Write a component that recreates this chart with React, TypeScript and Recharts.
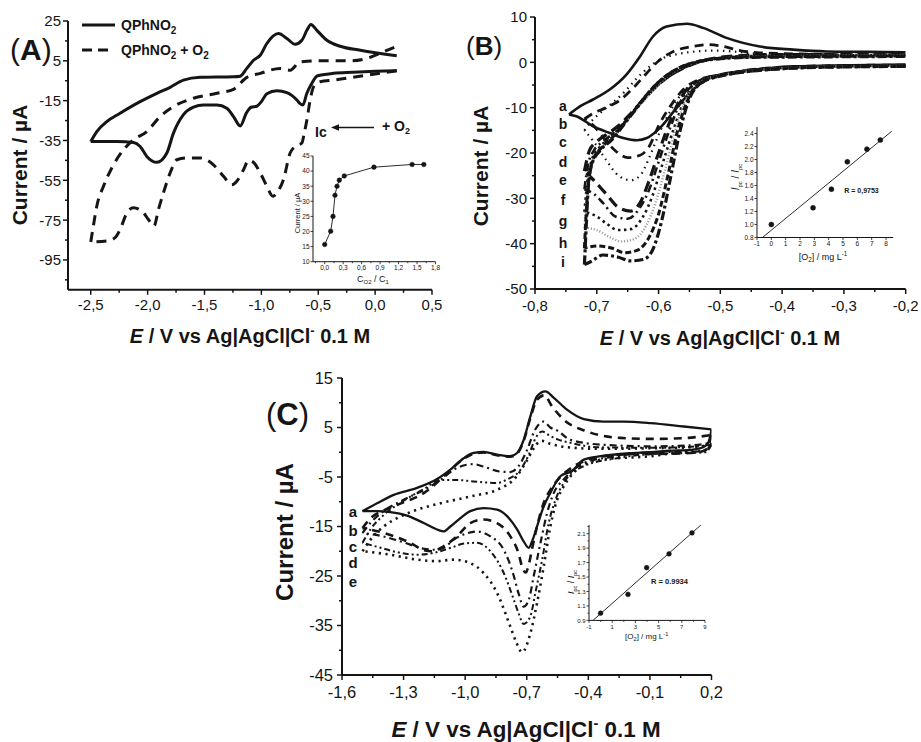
import React from 'react';
import { LineChart, Line, XAxis, YAxis } from 'recharts';

type Pt = [number, number];
type Row = { x: number; y: number };

const INK = '#151515';
const FONT = '"Liberation Sans", Arial, Helvetica, sans-serif';

// ---------- (A) QPhNO2 with / without O2, E in V, current in µA ----------
const A_X_TICKS = [-2.5, -2, -1.5, -1, -0.5, 0, 0.5];
const A_X_MINOR = [-2.25, -1.75, -1.25, -0.75, -0.25, 0.25];
const A_Y_TICKS = [25, 5, -15, -35, -55, -75, -95];
const A_Y_MINOR = [15, -5, -25, -45, -65, -85, -105];

const A_NO_O2: Pt[] = [
  [0.19, 0], [0, -0.3], [-0.2, -0.8], [-0.365, -1.3], [-0.46, -2.0], [-0.512, -2.7], [-0.556, -6.3],
  [-0.6, -11.3], [-0.635, -17.2], [-0.66, -16.5], [-0.688, -14.7], [-0.73, -12.5], [-0.776, -11],
  [-0.864, -10], [-0.952, -11.5], [-1.0, -15.5], [-1.04, -17.8], [-1.09, -18.3], [-1.13, -21],
  [-1.186, -27.7], [-1.245, -23], [-1.304, -18.8], [-1.391, -17.2], [-1.509, -17.2], [-1.597, -18.3],
  [-1.685, -22], [-1.773, -31.3], [-1.831, -41.3], [-1.919, -46], [-2.007, -43], [-2.066, -38],
  [-2.125, -36], [-2.271, -35.5], [-2.418, -35.5], [-2.5, -35.5],
  [-2.447, -30.5], [-2.359, -25.5], [-2.242, -21.3], [-2.066, -15.5], [-1.919, -11.3], [-1.802, -8.3],
  [-1.685, -4.7], [-1.538, -3.3], [-1.245, -3.0], [-1.186, -2.7], [-1.128, 1.2], [-1.069, 5.3],
  [-1.01, 7.8], [-0.952, 13.7], [-0.85, 18.7], [-0.776, 16.2], [-0.703, 13.3], [-0.644, 15.3],
  [-0.6, 20.3], [-0.565, 23.3], [-0.512, 20.3], [-0.424, 15.3], [-0.307, 12.3], [-0.13, 10.3], [0.19, 7.5],
];

const A_WITH_O2: Pt[] = [
  [0.19, 0], [-0.073, -2.2], [-0.365, -4.7], [-0.483, -5.5], [-0.541, -8], [-0.571, -14.7], [-0.6, -24.7],
  [-0.623, -31.3], [-0.644, -36.3], [-0.703, -38], [-0.747, -41.3], [-0.806, -54.7], [-0.864, -61.3],
  [-0.899, -63], [-0.952, -58], [-1.01, -51.3], [-1.069, -46], [-1.113, -45], [-1.157, -49.7],
  [-1.216, -55.5], [-1.26, -57.3], [-1.333, -53], [-1.421, -47.2], [-1.538, -43.8], [-1.655, -43.8],
  [-1.743, -44.7], [-1.802, -51.3], [-1.861, -61.3], [-1.905, -69.7], [-1.944, -78], [-1.993, -74.7],
  [-2.037, -71.3], [-2.125, -68.8], [-2.183, -71.5], [-2.242, -79.7], [-2.286, -83.8], [-2.359, -85.5], [-2.5, -86],
  [-2.482, -79.7], [-2.447, -68], [-2.388, -58], [-2.315, -48.8], [-2.212, -39.7], [-2.125, -34.7],
  [-2.007, -30.5], [-1.89, -23], [-1.773, -18], [-1.597, -13.8], [-1.391, -11.3], [-1.245, -9.3],
  [-1.128, -3.3], [-1.01, -1.3], [-0.835, 1.2], [-0.747, 0.3], [-0.659, 4.5], [-0.512, 5.0],
  [-0.219, 5.0], [-0.073, 6.2], [0.073, 9.5], [0.19, 12.3],
];

// inset of (A): current vs C_O2 / C_1
const A_IN_RATIO = [0, 0.097, 0.135, 0.167, 0.2, 0.237, 0.318, 0.8, 1.42, 1.61];
const A_IN_CURRENT = [15.7, 20.1, 25, 32, 35, 37, 38.4, 41.3, 42.2, 42.2];
const A_IN_X_TICKS = [0, 0.3, 0.6, 0.9, 1.2, 1.5, 1.8];
const A_IN_X_MINOR = [-0.15, 0.15, 0.45, 0.75, 1.05, 1.35, 1.65];
const A_IN_Y_TICKS = [10, 15, 20, 25, 30, 35, 40, 45];

// ---------- (B) curves a..i ----------
const B_X_TICKS = [-0.8, -0.7, -0.6, -0.5, -0.4, -0.3, -0.2];
const B_X_MINOR = [-0.75, -0.65, -0.55, -0.45, -0.35, -0.25];
const B_Y_TICKS = [10, 0, -10, -20, -30, -40, -50];
const B_Y_MINOR = [5, -5, -15, -25, -35, -45];
const B_LABELS = ['a', 'b', 'c', 'd', 'e', 'f', 'g', 'h', 'i'];

const B_a: Pt[] = [
  [-0.2, -0.5], [-0.3, -0.7], [-0.382, -0.9], [-0.463, -2.0], [-0.5, -2.7], [-0.522, -3.8], [-0.544, -6.0],
  [-0.571, -10.1], [-0.598, -14.5], [-0.619, -16.7], [-0.635, -17.2], [-0.657, -16.7], [-0.679, -15.6],
  [-0.706, -14.1], [-0.733, -11.9], [-0.745, -11.5],
  [-0.726, -9.6], [-0.706, -8.2], [-0.679, -6.0], [-0.652, -2.7], [-0.63, 1.3], [-0.609, 5.7], [-0.587, 7.9],
  [-0.554, 8.5], [-0.528, 7.6], [-0.49, 5.4], [-0.436, 3.5], [-0.382, 2.8], [-0.328, 2.4], [-0.26, 2.3], [-0.2, 2.2],
];
const B_b: Pt[] = [
  [-0.2, -0.6], [-0.3, -0.7], [-0.4, -1.1], [-0.46, -1.8], [-0.5, -2.8], [-0.53, -3.6], [-0.56, -6],
  [-0.58, -9.5], [-0.6, -14], [-0.615, -18.5], [-0.63, -20.5], [-0.65, -21], [-0.67, -19.5], [-0.69, -16.5],
  [-0.705, -14], [-0.72, -12.5],
  [-0.705, -11.2], [-0.685, -10], [-0.662, -8.3], [-0.64, -5.5], [-0.62, -2.5], [-0.6, 0.3], [-0.576, 2.4],
  [-0.544, 3.5], [-0.52, 3.9], [-0.495, 3.5], [-0.468, 2.6], [-0.436, 2.1], [-0.35, 1.8], [-0.2, 1.6],
];
const B_c: Pt[] = [
  [-0.2, -0.6], [-0.3, -0.7], [-0.4, -1.1], [-0.46, -1.8], [-0.5, -2.8], [-0.53, -3.8], [-0.56, -6.5],
  [-0.58, -10.5], [-0.6, -16], [-0.615, -21], [-0.63, -25], [-0.645, -26], [-0.665, -25], [-0.685, -21.5],
  [-0.705, -17.5], [-0.72, -15],
  [-0.71, -13.2], [-0.695, -11.2], [-0.675, -9], [-0.655, -6.5], [-0.635, -3.5], [-0.615, -1], [-0.595, 0.8],
  [-0.57, 1.8], [-0.54, 2.4], [-0.51, 2.6], [-0.48, 2.4], [-0.45, 2.0], [-0.4, 1.7], [-0.3, 1.6], [-0.2, 1.5],
];
const B_d: Pt[] = [
  [-0.2, -0.7], [-0.3, -0.8], [-0.4, -1.2], [-0.46, -1.9], [-0.5, -2.8], [-0.53, -3.8], [-0.56, -7],
  [-0.58, -12.5], [-0.6, -20], [-0.615, -26], [-0.63, -31], [-0.645, -32.8], [-0.665, -32], [-0.685, -29],
  [-0.705, -26], [-0.72, -24],
  [-0.712, -19.5], [-0.7, -17.5], [-0.685, -16], [-0.665, -14], [-0.645, -11.3], [-0.625, -8.3], [-0.605, -5.5],
  [-0.585, -3.2], [-0.56, -1.3], [-0.535, 0.1], [-0.505, 1.0], [-0.465, 1.5], [-0.42, 1.7], [-0.35, 1.7], [-0.2, 1.7],
];
const B_e: Pt[] = [
  [-0.2, -0.7], [-0.3, -0.8], [-0.4, -1.2], [-0.46, -1.9], [-0.5, -2.9], [-0.53, -4], [-0.56, -7.5],
  [-0.58, -14], [-0.6, -22], [-0.615, -28], [-0.63, -32], [-0.65, -34.5], [-0.67, -34], [-0.69, -31],
  [-0.705, -29], [-0.72, -28],
  [-0.714, -22.5], [-0.705, -19.5], [-0.69, -17.5], [-0.672, -15.5], [-0.652, -12.8], [-0.632, -9.6],
  [-0.612, -6.5], [-0.592, -4], [-0.57, -2], [-0.545, -0.4], [-0.515, 0.7], [-0.475, 1.3], [-0.43, 1.6],
  [-0.35, 1.6], [-0.2, 1.7],
];
const B_f: Pt[] = [
  [-0.2, -0.8], [-0.3, -0.9], [-0.4, -1.3], [-0.46, -2.0], [-0.5, -2.9], [-0.53, -4], [-0.555, -7.5],
  [-0.575, -14.5], [-0.595, -23], [-0.61, -29.5], [-0.625, -34], [-0.645, -36.8], [-0.665, -37],
  [-0.685, -35.5], [-0.7, -34], [-0.72, -33],
  [-0.715, -26], [-0.708, -21.5], [-0.697, -19], [-0.68, -16.8], [-0.66, -14], [-0.64, -10.8], [-0.62, -7.5],
  [-0.6, -4.8], [-0.58, -2.6], [-0.555, -0.8], [-0.525, 0.4], [-0.485, 1.1], [-0.44, 1.4], [-0.35, 1.5], [-0.2, 1.6],
];
const B_g: Pt[] = [
  [-0.2, -0.8], [-0.3, -0.9], [-0.4, -1.3], [-0.46, -2.0], [-0.5, -2.9], [-0.53, -4.2], [-0.555, -8],
  [-0.575, -16], [-0.59, -24], [-0.605, -31], [-0.62, -36], [-0.64, -39], [-0.66, -39.5], [-0.68, -38.5],
  [-0.7, -37], [-0.72, -36.5],
  [-0.716, -29], [-0.71, -23.5], [-0.7, -20], [-0.685, -17.8], [-0.665, -15.2], [-0.645, -12], [-0.625, -8.6],
  [-0.605, -5.5], [-0.585, -3], [-0.56, -1], [-0.53, 0.3], [-0.49, 1.0], [-0.44, 1.3], [-0.35, 1.4], [-0.2, 1.5],
];
const B_h: Pt[] = [
  [-0.2, -0.9], [-0.3, -1.0], [-0.4, -1.4], [-0.46, -2.1], [-0.5, -3], [-0.53, -4.3], [-0.55, -7.5],
  [-0.57, -15.5], [-0.585, -25], [-0.6, -33.5], [-0.615, -38.5], [-0.635, -41.5], [-0.655, -42],
  [-0.675, -41], [-0.7, -40.5], [-0.72, -41],
  [-0.717, -33], [-0.713, -26], [-0.706, -21.5], [-0.692, -18.8], [-0.672, -16.2], [-0.652, -12.8],
  [-0.632, -9.3], [-0.612, -6], [-0.592, -3.4], [-0.567, -1.2], [-0.537, 0.2], [-0.5, 0.9], [-0.45, 1.2],
  [-0.35, 1.3], [-0.2, 1.4],
];
const B_i: Pt[] = [
  [-0.2, -0.9], [-0.3, -1.0], [-0.4, -1.4], [-0.46, -2.1], [-0.5, -3], [-0.53, -4.5], [-0.55, -8],
  [-0.565, -15], [-0.58, -25], [-0.595, -35], [-0.61, -41.5], [-0.625, -43.5], [-0.645, -43.8],
  [-0.665, -43], [-0.69, -42.5], [-0.71, -44], [-0.72, -44.6],
  [-0.717, -36], [-0.714, -28], [-0.708, -22.5], [-0.695, -19.5], [-0.675, -17], [-0.655, -13.5],
  [-0.635, -10], [-0.615, -6.5], [-0.595, -3.8], [-0.57, -1.5], [-0.54, 0], [-0.5, 0.8], [-0.45, 1.1],
  [-0.35, 1.2], [-0.2, 1.3],
];

// inset of (B)
const B_IN_O2 = [0, 2.91, 4.19, 5.3, 6.67, 7.6];
const B_IN_RATIO = [1.0, 1.256, 1.544, 1.964, 2.159, 2.3];
const B_IN_FIT: Pt[] = [[-0.62, 0.8], [8.4, 2.435]];
const B_IN_X_TICKS = [-1, 0, 1, 2, 3, 4, 5, 6, 7, 8];
const B_IN_Y_TICKS = [0.8, 1.0, 1.2, 1.4, 1.6, 1.8, 2.0, 2.2, 2.4];

// ---------- (C) curves a..e ----------
const C_X_TICKS = [-1.6, -1.3, -1.0, -0.7, -0.4, -0.1, 0.2];
const C_X_MINOR = [-1.45, -1.15, -0.85, -0.55, -0.25, 0.05];
const C_Y_TICKS = [15, 5, -5, -15, -25, -35, -45];
const C_Y_MINOR = [10, 0, -10, -20, -30, -40];
const C_LABELS = ['a', 'b', 'c', 'd', 'e'];

const C_a: Pt[] = [
  [0.2, 4.6], [0.185, 2.0], [0.16, 1.0], [0.1, 0.5], [0, 0.3], [-0.1, 0.0], [-0.2, -0.2], [-0.34, -0.8],
  [-0.422, -1.5], [-0.48, -3.8], [-0.535, -4.8], [-0.585, -8.2], [-0.617, -10.9], [-0.65, -15], [-0.674, -18],
  [-0.69, -19.3], [-0.715, -18], [-0.747, -15.6], [-0.796, -12.9], [-0.845, -11.6], [-0.91, -11.3],
  [-0.975, -11.9], [-1.023, -13.3], [-1.072, -15], [-1.105, -16], [-1.137, -15.6], [-1.202, -14.3],
  [-1.283, -12.8], [-1.364, -12.1], [-1.429, -11.9], [-1.5, -11.9],
  [-1.429, -10.3], [-1.348, -8.6], [-1.234, -7.2], [-1.137, -5.4], [-1.072, -3.5], [-1.007, -1.2],
  [-0.958, -0.15], [-0.91, 0.05], [-0.845, -0.5], [-0.78, -0.8], [-0.747, -0.15], [-0.715, 2.5],
  [-0.682, 7.3], [-0.65, 11.3], [-0.609, 12.3], [-0.568, 11], [-0.504, 8.6], [-0.422, 6.7], [-0.325, 6.2],
  [-0.227, 6.2], [-0.097, 5.9], [0.065, 5.2], [0.2, 4.6],
];
const C_b: Pt[] = [
  [0.2, 3.5], [0.175, 0.6], [0.12, -0.1], [0, -0.3], [-0.2, -0.4], [-0.34, -0.9], [-0.422, -1.8],
  [-0.504, -3.8], [-0.55, -5.6], [-0.585, -7.6], [-0.617, -10.2], [-0.65, -15], [-0.674, -19.5],
  [-0.692, -23], [-0.705, -24.3], [-0.72, -23.5], [-0.74, -20.4], [-0.78, -17], [-0.845, -14.3],
  [-0.91, -13.6], [-0.975, -14.3], [-1.04, -17], [-1.105, -19], [-1.161, -20], [-1.2, -19.8],
  [-1.267, -18.3], [-1.397, -16.3], [-1.5, -15.3],
  [-1.46, -13.3], [-1.4, -11.8], [-1.33, -10.6], [-1.2, -8.2], [-1.12, -5.5], [-1.072, -3.6], [-1.007, -1.3],
  [-0.958, -0.3], [-0.91, -0.05], [-0.845, -0.6], [-0.78, -0.9], [-0.747, -0.3], [-0.715, 2.3], [-0.682, 7],
  [-0.65, 10.6], [-0.615, 11.5], [-0.577, 9.3], [-0.52, 6.6], [-0.406, 4.2], [-0.244, 2.9], [-0.081, 2.7],
  [0.081, 2.9], [0.2, 3.5],
];
const C_c: Pt[] = [
  [0.2, 1.9], [0.17, 0.3], [0.1, 0.1], [-0.1, 0.0], [-0.26, -0.8], [-0.422, -2.2], [-0.52, -5.5],
  [-0.568, -8.2], [-0.601, -12.3], [-0.633, -18.3], [-0.666, -25], [-0.69, -29.8], [-0.715, -31.2],
  [-0.74, -28.5], [-0.763, -25], [-0.812, -19.7], [-0.877, -17], [-0.942, -16], [-1.0, -16.5],
  [-1.05, -17.5], [-1.105, -19.3], [-1.15, -19.7], [-1.2, -19.5], [-1.3, -18.2], [-1.4, -17], [-1.5, -16.3],
  [-1.46, -14.2], [-1.4, -12], [-1.3, -9.6], [-1.2, -7.6], [-1.12, -5.6], [-1.05, -3.4], [-0.99, -2.5],
  [-0.96, -2.4], [-0.91, -2.9], [-0.83, -3.9], [-0.78, -4.0], [-0.74, -2.8], [-0.7, 0.3], [-0.66, 4.5],
  [-0.618, 6.2], [-0.585, 5.0], [-0.552, 4.4], [-0.487, 2.5], [-0.325, 1.5], [-0.081, 1.2], [0.1, 1.4], [0.2, 1.9],
];
const C_d: Pt[] = [
  [0.2, 1.5], [0.17, 0.0], [0.05, -0.2], [-0.1, -0.4], [-0.26, -1.2], [-0.422, -2.8], [-0.52, -6.2],
  [-0.56, -9.6], [-0.593, -14.3], [-0.625, -21.7], [-0.658, -28.4], [-0.682, -33.1], [-0.715, -34.7],
  [-0.74, -32.5], [-0.763, -29.8], [-0.812, -24.4], [-0.877, -20], [-0.942, -18.3], [-1.0, -18.4],
  [-1.07, -19.3], [-1.15, -20.3], [-1.234, -20.7], [-1.33, -20.2], [-1.42, -19.2], [-1.5, -18.3],
  [-1.46, -15.5], [-1.4, -12.8], [-1.3, -9.8], [-1.2, -7.4], [-1.12, -5.6], [-1.04, -5.6], [-0.96, -5.9],
  [-0.843, -6.2], [-0.796, -5.5], [-0.73, -3.5], [-0.69, -0.5], [-0.655, 3.0], [-0.625, 4.2], [-0.59, 3.4],
  [-0.55, 2.6], [-0.487, 1.9], [-0.35, 1.0], [-0.1, 0.9], [0.1, 1.1], [0.2, 1.5],
];
const C_e: Pt[] = [
  [0.2, 1.5], [0.17, 0.4], [0.05, 0.0], [-0.097, -0.8], [-0.341, -1.5], [-0.455, -3.5], [-0.52, -6.9],
  [-0.552, -9.6], [-0.585, -15], [-0.617, -23], [-0.65, -30.5], [-0.682, -36.5], [-0.722, -40.4],
  [-0.75, -38.5], [-0.78, -35.2], [-0.845, -28.4], [-0.91, -24.4], [-0.975, -22.4], [-1.056, -21.7],
  [-1.137, -22], [-1.234, -21.7], [-1.364, -20.7], [-1.5, -20],
  [-1.462, -17.7], [-1.397, -15], [-1.316, -13], [-1.234, -11.6], [-1.12, -10.3], [-0.96, -8.8],
  [-0.845, -7.6], [-0.75, -4.9], [-0.69, -1.0], [-0.655, 1.5], [-0.625, 2.3], [-0.585, 1.7], [-0.5, 1.0],
  [-0.35, 0.7], [-0.1, 0.8], [0.1, 1.0], [0.2, 1.5],
];

// inset of (C)
const C_IN_O2 = [0, 2.36, 3.97, 5.9, 7.88];
const C_IN_RATIO = [1.0, 1.26, 1.63, 1.82, 2.11];
const C_IN_FIT: Pt[] = [[-0.66, 0.9], [8.65, 2.22]];
const C_IN_X_TICKS = [-1, 1, 3, 5, 7, 9];
const C_IN_X_MINOR = [0, 2, 4, 6, 8];
const C_IN_Y_TICKS = [0.9, 1.1, 1.3, 1.5, 1.7, 1.9, 2.1];
const C_IN_Y_MINOR = [1.0, 1.2, 1.4, 1.6, 1.8, 2.0, 2.2];

// ---------- helpers ----------
const rows = (pts: Pt[]): Row[] => pts.map(([x, y]) => ({ x, y }));
const pairs = (xs: number[], ys: number[]): Row[] => xs.map((x, i) => ({ x, y: ys[i] }));

// each voltammogram is drawn as its two sweeps, split at the switching potential
function sweeps(pts: Pt[]): Row[][] {
  let k = 0;
  pts.forEach((p, i) => {
    if (p[0] < pts[k][0]) k = i;
  });
  return [rows(pts.slice(0, k + 1)), rows(pts.slice(k))];
}

const comma = (v: number) => v.toFixed(1).replace('.', ',');
const dot1 = (v: number) => v.toFixed(1);
const plain = (v: number) => String(v);
const has = (list: number[], v: number) => list.some((m) => Math.abs(m - v) < 1e-6);

type TickStyle = { majors: number[]; fmt: (v: number) => string; len: number; minor: number; gap: number; size: number; w: number };

const bottomTick = (s: TickStyle) => (p: any) => {
  const v = Number(p.payload.value);
  const major = has(s.majors, v);
  return (
    <g>
      <line x1={p.x} y1={p.y} x2={p.x} y2={p.y + (major ? s.len : s.minor)} stroke={INK} strokeWidth={s.w} />
      {major && (
        <text x={p.x} y={p.y + s.gap} textAnchor="middle" fontSize={s.size} fontFamily={FONT} fill={INK}>
          {s.fmt(v)}
        </text>
      )}
    </g>
  );
};

const leftTick = (s: TickStyle) => (p: any) => {
  const v = Number(p.payload.value);
  const major = has(s.majors, v);
  return (
    <g>
      <line x1={p.x} y1={p.y} x2={p.x - (major ? s.len : s.minor)} y2={p.y} stroke={INK} strokeWidth={s.w} />
      {major && (
        <text x={p.x - s.gap} y={p.y} dy="0.36em" textAnchor="end" fontSize={s.size} fontFamily={FONT} fill={INK}>
          {s.fmt(v)}
        </text>
      )}
    </g>
  );
};

function Frame(props: { x0: number; y0: number; x1: number; y1: number; yw: number; xh: number; mt: number; mr: number; children: React.ReactNode }) {
  const { x0, y0, x1, y1, yw, xh, mt, mr } = props;
  const left = x0 - yw;
  const top = y0 - mt;
  return (
    <div style={{ position: 'absolute', left, top }}>
      <LineChart width={x1 - left + mr} height={y1 - top + xh} margin={{ top: mt, right: mr, bottom: 0, left: 0 }}>
        {props.children}
      </LineChart>
    </div>
  );
}

type Stroke = { w: number; dash?: string; color?: string };

function cv(key: string, pts: Pt[], s: Stroke) {
  return sweeps(pts).map((data, i) => (
    <Line
      key={key + i}
      data={data}
      dataKey="y"
      type="monotone"
      stroke={s.color ?? INK}
      strokeWidth={s.w}
      strokeDasharray={s.dash}
      dot={false}
      activeDot={false}
      isAnimationActive={false}
    />
  ));
}

const mainAxis = { stroke: INK, strokeWidth: 2 };
const insetAxis = { stroke: INK, strokeWidth: 1 };

const B_SERIES: { pts: Pt[]; s: Stroke }[] = [
  { pts: B_a, s: { w: 2.6 } },
  { pts: B_b, s: { w: 2.8, dash: '9 6' } },
  { pts: B_c, s: { w: 2.2, dash: '1.5 4.5' } },
  { pts: B_d, s: { w: 3.2, dash: '11 6' } },
  { pts: B_e, s: { w: 2.6, dash: '8 4 2 4' } },
  { pts: B_f, s: { w: 2.6, dash: '2.5 3.5' } },
  { pts: B_g, s: { w: 2.4, dash: '1.2 1.8', color: '#a0a0a0' } },
  { pts: B_h, s: { w: 3, dash: '6 3' } },
  { pts: B_i, s: { w: 3.2, dash: '9 3 3 3' } },
];
const B_LABEL_Y = [111, 129, 147, 167, 185, 205, 226, 248, 267];

const C_SERIES: { pts: Pt[]; s: Stroke }[] = [
  { pts: C_a, s: { w: 2.3 } },
  { pts: C_b, s: { w: 2.6, dash: '8 6' } },
  { pts: C_c, s: { w: 2.2, dash: '7 4 2 4' } },
  { pts: C_d, s: { w: 2.0, dash: '6 3 2 3 2 3' } },
  { pts: C_e, s: { w: 2.6, dash: '2.2 4.5' } },
];
const C_LABEL_Y = [517, 535.5, 552, 567.5, 586.5];

function XTitle({ x, y, size }: { x: number; y: number; size: number }) {
  return (
    <text x={x} y={y} textAnchor="middle" fontSize={size} fontWeight="bold" fill={INK}>
      <tspan fontStyle="italic">E</tspan> / V vs Ag|AgCl|Cl
      <tspan fontSize={size * 0.65} dy={-size * 0.42}>-</tspan>
      <tspan dy={size * 0.42}> 0.1 M</tspan>
    </text>
  );
}

function YTitle({ x, y, size }: { x: number; y: number; size: number }) {
  return (
    <text transform={`translate(${x},${y}) rotate(-90)`} textAnchor="middle" fontSize={size} fontWeight="bold" fill={INK}>
      Current / µA
    </text>
  );
}

function O2Label({ x, y, size }: { x: number; y: number; size: number }) {
  return (
    <text x={x} y={y} textAnchor="middle" fontSize={size} fill={INK}>
      [O<tspan fontSize={size * 0.7} dy={size * 0.25}>2</tspan>
      <tspan dy={-size * 0.25}>] / mg L</tspan>
      <tspan fontSize={size * 0.7} dy={-size * 0.4}>-1</tspan>
    </text>
  );
}

function RatioLabel({ x, y, size }: { x: number; y: number; size: number }) {
  return (
    <text transform={`translate(${x},${y}) rotate(-90)`} textAnchor="middle" fontSize={size} fill={INK}>
      <tspan fontStyle="italic">I</tspan>
      <tspan fontSize={size * 0.6} dy={size * 0.3}>pc</tspan>
      <tspan dy={-size * 0.3}> / </tspan>
      <tspan fontStyle="italic">I</tspan>
      <tspan fontSize={size * 0.6} dy={size * 0.3}>pc</tspan>
    </text>
  );
}

export default function App() {
  return (
    <div style={{ position: 'absolute', left: 0, top: 0, width: 921, height: 742, background: '#fff', fontFamily: FONT }}>
      {/* (A) */}
      <Frame x0={68} y0={20.7} x1={432} y1={289.5} yw={60} xh={30} mt={10} mr={18}>
        <XAxis dataKey="x" type="number" domain={[-2.7, 0.5]} allowDataOverflow ticks={[...A_X_TICKS, ...A_X_MINOR]} interval={0}
          tickSize={0} tickMargin={0} tickLine={false} axisLine={mainAxis} height={30}
          tick={bottomTick({ majors: A_X_TICKS, fmt: comma, len: 5, minor: 3, gap: 20, size: 15, w: 1.5 })} />
        <YAxis type="number" domain={[-110, 25]} allowDataOverflow ticks={[...A_Y_TICKS, ...A_Y_MINOR]} interval={0}
          tickSize={0} tickMargin={0} tickLine={false} axisLine={mainAxis} width={60}
          tick={leftTick({ majors: A_Y_TICKS, fmt: plain, len: 5, minor: 3, gap: 7, size: 15, w: 1.5 })} />
        {cv('a0', A_NO_O2, { w: 3 })}
        {cv('a1', A_WITH_O2, { w: 3, dash: '10 7' })}
      </Frame>

      {/* (B) */}
      <Frame x0={535} y0={17.3} x1={905.7} y1={289.3} yw={60} xh={30} mt={10} mr={14}>
        <XAxis dataKey="x" type="number" domain={[-0.8, -0.2]} allowDataOverflow ticks={[...B_X_TICKS, ...B_X_MINOR]} interval={0}
          tickSize={0} tickMargin={0} tickLine={false} axisLine={mainAxis} height={30}
          tick={bottomTick({ majors: B_X_TICKS, fmt: comma, len: 5, minor: 3, gap: 22, size: 15, w: 1.5 })} />
        <YAxis type="number" domain={[-50, 10]} allowDataOverflow ticks={[...B_Y_TICKS, ...B_Y_MINOR]} interval={0}
          tickSize={0} tickMargin={0} tickLine={false} axisLine={mainAxis} width={60}
          tick={leftTick({ majors: B_Y_TICKS, fmt: plain, len: 5, minor: 3, gap: 8, size: 15, w: 1.5 })} />
        {B_SERIES.map((c, i) => cv('b' + i, c.pts, c.s))}
      </Frame>

      {/* (C) */}
      <Frame x0={341.5} y0={378.3} x1={711} y1={675.3} yw={60} xh={34} mt={10} mr={18}>
        <XAxis dataKey="x" type="number" domain={[-1.6, 0.2]} allowDataOverflow ticks={[...C_X_TICKS, ...C_X_MINOR]} interval={0}
          tickSize={0} tickMargin={0} tickLine={false} axisLine={mainAxis} height={34}
          tick={bottomTick({ majors: C_X_TICKS, fmt: comma, len: 5, minor: 3, gap: 22.5, size: 16.5, w: 1.5 })} />
        <YAxis type="number" domain={[-45, 15]} allowDataOverflow ticks={[...C_Y_TICKS, ...C_Y_MINOR]} interval={0}
          tickSize={0} tickMargin={0} tickLine={false} axisLine={mainAxis} width={60}
          tick={leftTick({ majors: C_Y_TICKS, fmt: plain, len: 5, minor: 3, gap: 9, size: 16.5, w: 1.5 })} />
        {C_SERIES.map((c, i) => cv('c' + i, c.pts, c.s))}
      </Frame>

      {/* inset of (A) */}
      <Frame x0={312.5} y0={155.6} x1={435} y1={261.3} yw={20} xh={14} mt={6} mr={8}>
        <XAxis dataKey="x" type="number" domain={[-0.19, 1.8]} allowDataOverflow ticks={[...A_IN_X_TICKS, ...A_IN_X_MINOR]} interval={0}
          tickSize={0} tickMargin={0} tickLine={false} axisLine={insetAxis} height={14}
          tick={bottomTick({ majors: A_IN_X_TICKS, fmt: comma, len: 2.5, minor: 1.5, gap: 8.5, size: 6.5, w: 0.8 })} />
        <YAxis type="number" domain={[10, 45]} allowDataOverflow ticks={A_IN_Y_TICKS} interval={0}
          tickSize={0} tickMargin={0} tickLine={false} axisLine={insetAxis} width={20}
          tick={leftTick({ majors: A_IN_Y_TICKS, fmt: plain, len: 2.5, minor: 1.5, gap: 3.5, size: 6.5, w: 0.8 })} />
        <Line data={pairs(A_IN_RATIO, A_IN_CURRENT)} dataKey="y" type="linear" stroke={INK} strokeWidth={0.9}
          dot={{ r: 2.3, fill: INK, stroke: INK, strokeWidth: 0.5 }} activeDot={false} isAnimationActive={false} />
      </Frame>

      {/* inset of (B) */}
      <Frame x0={757.3} y0={126.8} x1={893.5} y1={237.3} yw={20} xh={14} mt={6} mr={8}>
        <XAxis dataKey="x" type="number" domain={[-1, 8.5]} allowDataOverflow ticks={B_IN_X_TICKS} interval={0}
          tickSize={0} tickMargin={0} tickLine={false} axisLine={insetAxis} height={14}
          tick={bottomTick({ majors: B_IN_X_TICKS, fmt: plain, len: 2.5, minor: 1.5, gap: 8.5, size: 6.5, w: 0.8 })} />
        <YAxis type="number" domain={[0.8, 2.5]} allowDataOverflow ticks={B_IN_Y_TICKS} interval={0}
          tickSize={0} tickMargin={0} tickLine={false} axisLine={insetAxis} width={20}
          tick={leftTick({ majors: B_IN_Y_TICKS, fmt: dot1, len: 2.5, minor: 1.5, gap: 3.5, size: 6.5, w: 0.8 })} />
        <Line data={rows(B_IN_FIT)} dataKey="y" type="linear" stroke={INK} strokeWidth={0.9} dot={false} activeDot={false} isAnimationActive={false} />
        <Line data={pairs(B_IN_O2, B_IN_RATIO)} dataKey="y" type="linear" stroke="none"
          dot={{ r: 2.5, fill: INK, stroke: INK, strokeWidth: 0.5 }} activeDot={false} isAnimationActive={false} />
      </Frame>

      {/* inset of (C) */}
      <Frame x0={589.3} y0={524.6} x1={705.3} y1={620} yw={20} xh={14} mt={6} mr={8}>
        <XAxis dataKey="x" type="number" domain={[-1, 9]} allowDataOverflow ticks={[...C_IN_X_TICKS, ...C_IN_X_MINOR]} interval={0}
          tickSize={0} tickMargin={0} tickLine={false} axisLine={insetAxis} height={14}
          tick={bottomTick({ majors: C_IN_X_TICKS, fmt: plain, len: 2.5, minor: 1.5, gap: 8.5, size: 6, w: 0.8 })} />
        <YAxis type="number" domain={[0.9, 2.22]} allowDataOverflow ticks={[...C_IN_Y_TICKS, ...C_IN_Y_MINOR]} interval={0}
          tickSize={0} tickMargin={0} tickLine={false} axisLine={insetAxis} width={20}
          tick={leftTick({ majors: C_IN_Y_TICKS, fmt: dot1, len: 2.5, minor: 1.5, gap: 3.5, size: 6, w: 0.8 })} />
        <Line data={rows(C_IN_FIT)} dataKey="y" type="linear" stroke={INK} strokeWidth={0.9} dot={false} activeDot={false} isAnimationActive={false} />
        <Line data={pairs(C_IN_O2, C_IN_RATIO)} dataKey="y" type="linear" stroke="none"
          dot={{ r: 2.4, fill: INK, stroke: INK, strokeWidth: 0.5 }} activeDot={false} isAnimationActive={false} />
      </Frame>

      {/* text layer */}
      <svg width={921} height={742} style={{ position: 'absolute', left: 0, top: 0, pointerEvents: 'none' }} fontFamily={FONT} fill={INK}>
        <text x={10} y={60} fontSize={30}>(<tspan fontWeight="bold">A</tspan>)</text>
        <text x={466} y={55} fontSize={26}>(<tspan fontWeight="bold">B</tspan>)</text>
        <text x={266} y={425} fontSize={31}>(<tspan fontWeight="bold">C</tspan>)</text>

        <YTitle x={27} y={165} size={21} />
        <YTitle x={488} y={166} size={21} />
        <YTitle x={293} y={532} size={24} />
        <XTitle x={250} y={343} size={20} />
        <XTitle x={720} y={345} size={20} />
        <XTitle x={526} y={737} size={22.4} />

        {/* legend of (A) */}
        <line x1={82} y1={25} x2={115} y2={25} stroke={INK} strokeWidth={3} />
        <line x1={82} y1={50} x2={108} y2={50} stroke={INK} strokeWidth={3} strokeDasharray="10 6" />
        <text x={121} y={30} fontSize={14} fontWeight="bold">
          QPhNO<tspan fontSize={10} dy={4}>2</tspan>
        </text>
        <text x={121} y={55} fontSize={14} fontWeight="bold">
          QPhNO<tspan fontSize={10} dy={4}>2</tspan>
          <tspan dy={-4}> + O</tspan>
          <tspan fontSize={10} dy={4}>2</tspan>
        </text>

        {/* Ic annotation in (A) */}
        <text x={315} y={137} fontSize={14} fontWeight="bold">Ic</text>
        <line x1={374} y1={127.5} x2={337} y2={127.5} stroke={INK} strokeWidth={1.6} />
        <polygon points="331,127.5 339,124.3 339,130.7" fill={INK} />
        <text x={382} y={131} fontSize={14} fontWeight="bold">
          + O<tspan fontSize={9} dy={3}>2</tspan>
        </text>

        {/* inset (A) labels */}
        <text transform="translate(300,213) rotate(-90)" textAnchor="middle" fontSize={7.5}>Current / µA</text>
        <text x={373} y={282} textAnchor="middle" fontSize={9}>
          C<tspan fontSize={6} dy={2}>O2</tspan>
          <tspan dy={-2}> / C</tspan>
          <tspan fontSize={6} dy={2}>1</tspan>
        </text>

        {/* curve letters in (B) and (C) */}
        {B_LABELS.map((l, i) => (
          <text key={l} x={563} y={B_LABEL_Y[i]} textAnchor="middle" fontSize={14} fontWeight="bold">
            {l}
          </text>
        ))}
        {C_LABELS.map((l, i) => (
          <text key={l} x={353} y={C_LABEL_Y[i]} textAnchor="middle" fontSize={15} fontWeight="bold">
            {l}
          </text>
        ))}

        {/* inset (B) labels */}
        <RatioLabel x={739} y={177} size={10} />
        <O2Label x={823} y={259.5} size={9} />
        <text x={861.5} y={193} textAnchor="middle" fontSize={7} fontWeight="bold">R = 0,9753</text>

        {/* inset (C) labels */}
        <RatioLabel x={574} y={582} size={9} />
        <O2Label x={646.7} y={639} size={8} />
        <text x={669.5} y={583.5} textAnchor="middle" fontSize={7.5} fontWeight="bold">R = 0.9934</text>
      </svg>
    </div>
  );
}
